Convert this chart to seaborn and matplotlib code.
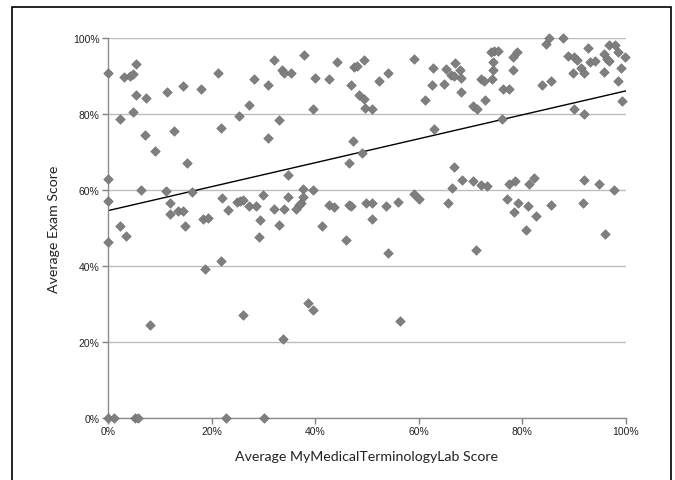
import numpy as np
import pandas as pd
import matplotlib
matplotlib.use("Agg")
import matplotlib.pyplot as plt
import seaborn as sns
from matplotlib.ticker import PercentFormatter
from matplotlib.patches import Rectangle

# lab score (%) and exam score (%) per student
lab_score = [
    0, 3.0, 4.3, 4.8, 5.5, 5.5, 7.3, 4.9, 2.3, 11.4, 14.5, 18.0, 21.3, 21.8, 25.3,
    27.2, 28.2, 30.8, 30.8, 7.1, 12.7, 9.0, 15.3, 0, 6.4, 11.2, 16.3, 0, 12.0, 11.9,
    13.5, 14.5, 22.1, 23.1, 24.9, 25.4, 26.0, 27.3, 28.5, 29.9, 29.4, 18.4, 19.4, 14.9, 2.3,
    32.1, 33.5, 34.0, 35.3, 37.9, 40.0, 42.6, 44.3, 47.4, 48.0, 49.5, 47.0, 48.4, 49.5, 49.7,
    50.9, 52.3, 54.1, 59.1, 62.8, 62.5, 61.2, 39.6, 33.0, 47.3, 49.0, 46.5, 63.0, 34.7, 37.6,
    39.6, 34.7, 37.6, 37.3, 36.9, 36.2, 34.0, 32.0, 42.6, 43.6, 46.5, 46.9, 49.9, 51.0, 53.6,
    56.0, 59.1, 60.1, 51.0, 33.0, 41.4,
    65.3, 66.9, 66.3, 66.7, 68.0, 68.1, 64.9, 68.1, 70.5, 71.3, 72.7, 72.1, 72.5, 74.1, 73.9,
    74.5, 75.3, 74.3, 74.4, 76.3, 77.4, 78.1, 78.9, 78.1, 76.1, 83.7, 85.5, 84.6, 85.1, 87.8,
    88.8, 90.0, 90.5, 89.7, 91.4, 91.8, 92.6, 93.1, 94.1, 95.8, 96.3, 96.7, 95.7, 96.7, 97.9,
    98.4, 99.8, 99.0, 98.5, 99.2, 89.9, 91.8, 66.7, 66.4, 68.4, 70.5, 72.1, 73.2, 77.4, 78.6,
    81.3, 82.2, 91.8, 94.8, 97.7, 65.6, 77.1, 79.1, 78.4, 81.1, 82.6, 85.6, 91.7, 80.6,
    0, 3.4, 18.7, 21.8, 8.2, 26.1, 29.2, 0, 1.2, 5.3, 5.7, 22.7, 30.1,
    45.9, 54.0, 38.7, 39.5, 56.4, 33.8, 71.0, 95.9,
]
exam_score = [
    90.9, 89.7, 90.0, 90.5, 93.2, 85.0, 84.3, 80.5, 78.7, 85.8, 87.3, 86.5, 90.7, 76.2, 79.4,
    82.5, 89.1, 87.6, 73.6, 74.6, 75.4, 70.3, 67.1, 63.0, 59.9, 59.8, 59.6, 57.2, 56.6, 53.7,
    54.6, 54.4, 58.0, 54.8, 56.8, 57.0, 57.3, 55.9, 55.8, 58.7, 52.2, 52.5, 52.7, 50.4, 50.4,
    94.2, 91.7, 90.9, 90.9, 95.4, 89.6, 89.3, 93.7, 92.3, 92.7, 94.1, 87.7, 85.1, 83.9, 81.7,
    81.2, 88.8, 90.9, 94.5, 92.0, 87.6, 83.7, 81.2, 78.3, 72.8, 69.8, 67.1, 76.0, 64.0, 60.2,
    59.9, 58.1, 58.2, 56.5, 56.0, 54.9, 55.1, 55.0, 56.0, 55.6, 56.1, 55.9, 56.6, 56.7, 55.8,
    56.9, 58.9, 57.7, 52.5, 50.7, 50.4,
    91.9, 93.5, 90.2, 89.9, 91.7, 89.5, 88.0, 85.9, 82.2, 81.4, 83.6, 89.1, 88.8, 89.1, 96.2,
    96.6, 96.5, 93.7, 91.6, 86.5, 86.5, 95.1, 96.2, 91.6, 78.8, 87.7, 88.6, 98.4, 99.9, 100.0,
    95.2, 94.9, 94.3, 90.7, 92.2, 90.8, 97.5, 93.7, 93.9, 95.9, 94.5, 93.9, 91.0, 98.2, 98.1,
    96.3, 94.9, 92.0, 88.7, 83.3, 81.3, 79.9, 66.0, 60.6, 62.6, 62.4, 61.2, 61.0, 61.5, 62.4,
    61.5, 63.1, 62.7, 61.6, 59.9, 56.7, 57.7, 56.6, 54.3, 55.9, 53.1, 56.1, 56.5, 49.4,
    46.2, 47.9, 39.3, 41.3, 24.5, 27.0, 47.7, 0, 0, 0, 0, 0, 0,
    46.8, 43.4, 30.2, 28.3, 25.6, 20.7, 44.3, 48.4,
]

df = pd.DataFrame({"lab": lab_score, "exam": exam_score})

sns.set_style("white")
plt.rcParams["font.family"] = ["Liberation Sans", "DejaVu Sans"]

fig = plt.figure(figsize=(6.75, 4.81), dpi=100)
ax = fig.add_axes([0.16, 0.1289, 0.7674, 0.79])

ax.set_axisbelow(True)
ax.yaxis.grid(True, color="#bdbdbd", linewidth=1)
ax.xaxis.grid(False)

# limits first so the untruncated trend line spans the full 0-100% range
ax.set_xlim(0, 100)
ax.set_ylim(0, 100)

sns.regplot(data=df, x="lab", y="exam", ax=ax, ci=None, scatter=False,
            truncate=False, line_kws={"color": "black", "linewidth": 1})
sns.scatterplot(data=df, x="lab", y="exam", ax=ax, marker="D", s=24,
                color="#7f7f7f", edgecolor="#6f6f6f", linewidth=0.4,
                clip_on=False, zorder=3)

ax.set_xlim(0, 100)
ax.set_ylim(0, 100)
ax.set_xticks(np.arange(0, 101, 20))
ax.set_yticks(np.arange(0, 101, 20))
ax.xaxis.set_major_formatter(PercentFormatter(decimals=0))
ax.yaxis.set_major_formatter(PercentFormatter(decimals=0))
ax.tick_params(axis="both", labelsize=7.5, colors="#808080", length=4, width=1,
               direction="out", labelcolor="#222222", pad=2)
ax.tick_params(axis="x", bottom=True)
ax.tick_params(axis="y", left=True)
for side in ["top", "right"]:
    ax.spines[side].set_visible(False)
for side in ["left", "bottom"]:
    ax.spines[side].set_color("#8c8c8c")
    ax.spines[side].set_linewidth(1)

ax.set_xlabel("")
ax.set_ylabel("")
fig.text(366 / 675, 1 - 457 / 481, "Average MyMedicalTerminologyLab Score",
         ha="center", va="center", fontsize=10.2, family=["Lato", "DejaVu Sans"],
         color="#222222")
fig.text(54 / 675, 1 - 229 / 481, "Average Exam Score", rotation=90,
         ha="center", va="center", fontsize=10.2, family=["Lato", "DejaVu Sans"],
         color="#222222")

# outer chart frame (open at the bottom of the crop)
fig.patches.append(Rectangle((12 / 675, -0.1), (671 - 12) / 675, 1 - 8 / 481 + 0.1,
                             transform=fig.transFigure, fill=False,
                             edgecolor="black", linewidth=1.2))

fig.savefig("out.png", dpi=100)
